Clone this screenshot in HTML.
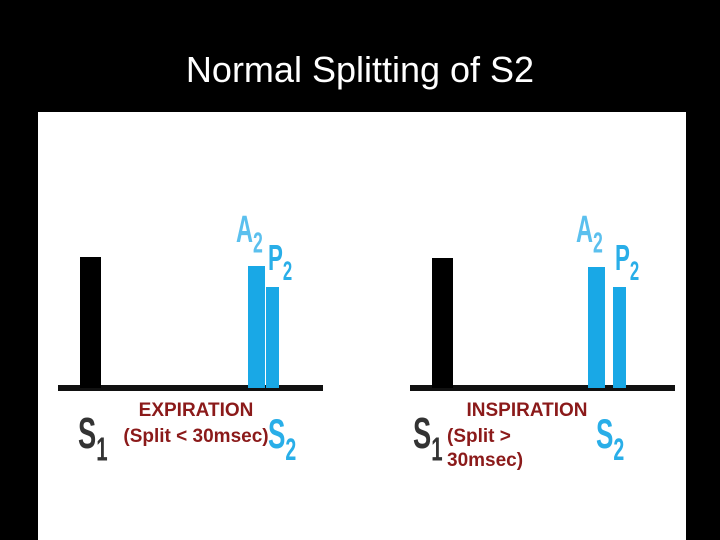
<!DOCTYPE html>
<html><head><meta charset="utf-8"><style>
body{margin:0;background:#000;width:720px;height:540px;overflow:hidden;font-family:"Liberation Sans",sans-serif}
</style></head><body>
<svg width="720" height="540" viewBox="0 0 720 540" style="display:block">
<rect x="0" y="0" width="720" height="540" fill="#000"/>
<text x="360" y="82" fill="#fff" font-size="36" text-anchor="middle" font-family="Liberation Sans, sans-serif">Normal Splitting of S2</text>
<rect x="38" y="112" width="648" height="428" fill="#fff"/>
<g id="marks"></g>
<g font-family="Liberation Sans, sans-serif" font-weight="bold" fill="#8b1a1a" font-size="19">
<text x="196" y="416" text-anchor="middle">EXPIRATION</text>
<text x="196" y="442" text-anchor="middle">(Split &lt; 30msec)</text>
<text x="527" y="416" text-anchor="middle">INSPIRATION</text>
<text x="447" y="442">(Split &gt;</text>
<text x="447" y="466">30msec)</text>
</g>
</svg>
<script>
const panels=["expiration","inspiration"];
const panelX=[58,410];
const s1Height=[131,130];
const a2Height=[122,121];
const p2Height=[101,101];
const a2Offset=[190,178];
const p2Offset=[208,203];
const NS="http://www.w3.org/2000/svg";
const g=document.getElementById('marks');
const base=388;
function mk(tag,attrs,name){const e=document.createElementNS(NS,tag);for(const k in attrs)e.setAttribute(k,attrs[k]);


g.appendChild(e);return e;}
panels.forEach((p,i)=>{
 const x0=panelX[i];
 mk('rect',{x:x0,y:base-3,width:265,height:6,fill:'#111'},p+'-baseline');
 mk('rect',{x:x0+22,y:base-s1Height[i],width:21,height:s1Height[i],fill:'#000'},p+'-s1-bar');
 mk('rect',{x:x0+a2Offset[i],y:base-a2Height[i],width:17,height:a2Height[i],fill:'#19a8e6'},p+'-a2-bar');
 mk('rect',{x:x0+p2Offset[i],y:base-p2Height[i],width:13,height:p2Height[i],fill:'#19a8e6'},p+'-p2-bar');
 const t=(x,y,s,fill,name,sub)=>{const e=mk('text',{x:0,y:0,fill:fill,'font-size':s,'font-weight':'bold','font-family':'Liberation Sans, sans-serif',transform:'translate('+x+','+y+') scale(0.62,1)'},name);
  e.textContent=sub[0];const ts=document.createElementNS(NS,'tspan');ts.setAttribute('font-size',s*0.75);ts.setAttribute('dy',s*0.28);ts.textContent=sub[1];e.appendChild(ts);};
 t(x0+(i?3:20),448,44,'#333',p+'-s1-label',['S','1']);
 t(x0+(i?186:210),448,42,'#29aee8',p+'-s2-label',['S','2']);
 t(x0+a2Offset[i]-12,242,38,'#5bc0ee',p+'-a2-label',['A','2']);
 t(x0+p2Offset[i]+2,270,36,'#29aee8',p+'-p2-label',['P','2']);
});
</script>
</body></html>
